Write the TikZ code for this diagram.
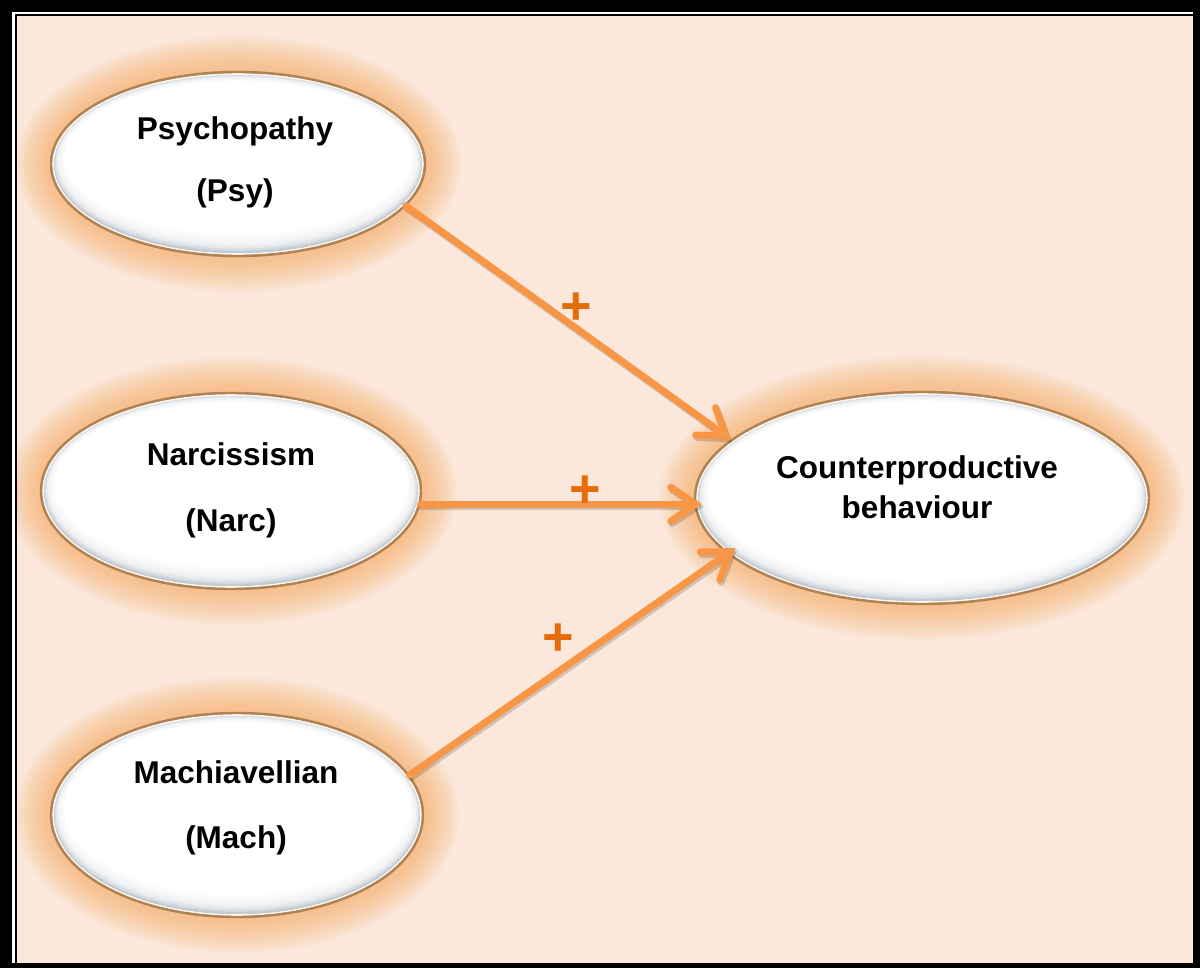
\documentclass[tikz,border=0pt]{standalone}
\usepackage{fontspec}
\setmainfont{Liberation Sans}
\usetikzlibrary{shapes.geometric,arrows.meta}

\definecolor{peach}{HTML}{FBE8DA}
\definecolor{haloor}{HTML}{F7A24E}
\definecolor{rimgray}{HTML}{A9B3BF}
\definecolor{edgebrown}{HTML}{B08254}
\definecolor{edgecream}{HTML}{FFF8EC}
\definecolor{arrowor}{HTML}{F79646}
\definecolor{plusor}{HTML}{E46C0A}

% glowing bevelled ellipse: name, cx, cy, rx, ry
\newcommand\halobubble[5]{%
  \foreach \k in {12,11,...,1}{
    \fill[haloor, fill opacity=0.06] (#2,#3) ellipse [x radius={#4+2.9*\k}, y radius={#5+2.9*\k}];
  }
  \fill[rimgray] (#2,#3) ellipse [x radius=#4, y radius=#5];
  \foreach \k in {1,...,9}{
    \fill[white, fill opacity=0.32] (#2,{#3-0.6*\k}) ellipse [x radius={#4-2-1.2*\k}, y radius={#5-2-1.5*\k}];
  }
  \fill[white] (#2,{#3-6}) ellipse [x radius={#4-14}, y radius={#5-16}];
  \draw[edgecream, line width=1.6pt] (#2,#3) ellipse [x radius={#4-3}, y radius={#5-3}];
  \draw[edgebrown, line width=2.4pt] (#2,#3) ellipse [x radius={#4-1}, y radius={#5-1}];
  \node[ellipse, minimum width=2*#4 pt, minimum height=2*#5 pt, inner sep=0pt, outer sep=0pt] (#1) at (#2,#3) {};
}

\tikzset{
  lbl/.style={align=center, text=black, inner sep=0pt,
              font=\bfseries\fontsize{31.5}{#1}\selectfont},
  arr/.style={draw=arrowor, line width=7pt, line cap=round,
              -{Straight Barb[length=25pt, width=34pt, line cap=round]}},
  arrshadow/.style={arr, draw=black, draw opacity=0.16},
  plus/.style={text=plusor, inner sep=0pt, font=\bfseries\fontsize{54}{54}\selectfont}
}

\begin{document}
\begin{tikzpicture}[x=1pt, y=-1pt]
  \useasboundingbox (0,0) rectangle (1200,968);

  % double frame and page background
  \fill[black] (0,0) rectangle (1200,968);
  \fill[white] (12,12) rectangle (1193,963);
  \fill[black] (14.5,14) rectangle (1193,963);
  \fill[peach] (17,16) rectangle (1193,963);

  % constructs, glow kept inside the inner frame
  \begin{scope}
    \clip (17,16) rectangle (1193,963);
    \halobubble{psy}{238}{164}{188}{93}
    \halobubble{narc}{231}{491}{191}{99}
    \halobubble{mach}{237}{815}{187}{103}
    \halobubble{cb}{922}{498}{228}{107}
  \end{scope}

  \node[lbl=62] (psyt) at (235,162) {Psychopathy\\(Psy)};
  \node[lbl=66] (narct) at (231,490) {Narcissism\\(Narc)};
  \node[lbl=65] (macht) at (236,808) {Machiavellian\\(Mach)};
  \node[lbl=40] (cbt) at (917,487) {Counterproductive\\behaviour};

  % soft shadows under the paths
  \begin{scope}[transform canvas={shift={(1.5pt,-2.5pt)}}]
    \draw[arrshadow] (psy.-14) -- (cb.163.4);
    \draw[arrshadow] (narc.-4.8) -- ([xshift=8pt]cb.west |- narc.-4.8);
    \draw[arrshadow, shorten >=-10pt] (mach.13.8) -- (cb.196.8);
  \end{scope}

  % paths
  \draw[arr] (psy.-14) -- (cb.163.4);
  \draw[arr] (narc.-4.8) -- ([xshift=8pt]cb.west |- narc.-4.8);
  \draw[arr, shorten >=-10pt] (mach.13.8) -- (cb.196.8);

  % signs
  \node[plus] (s1) at (576,309) {+};
  \node[plus] (s2) at (585,492) {+};
  \node[plus] (s3) at (558,640) {+};
\end{tikzpicture}
\end{document}
